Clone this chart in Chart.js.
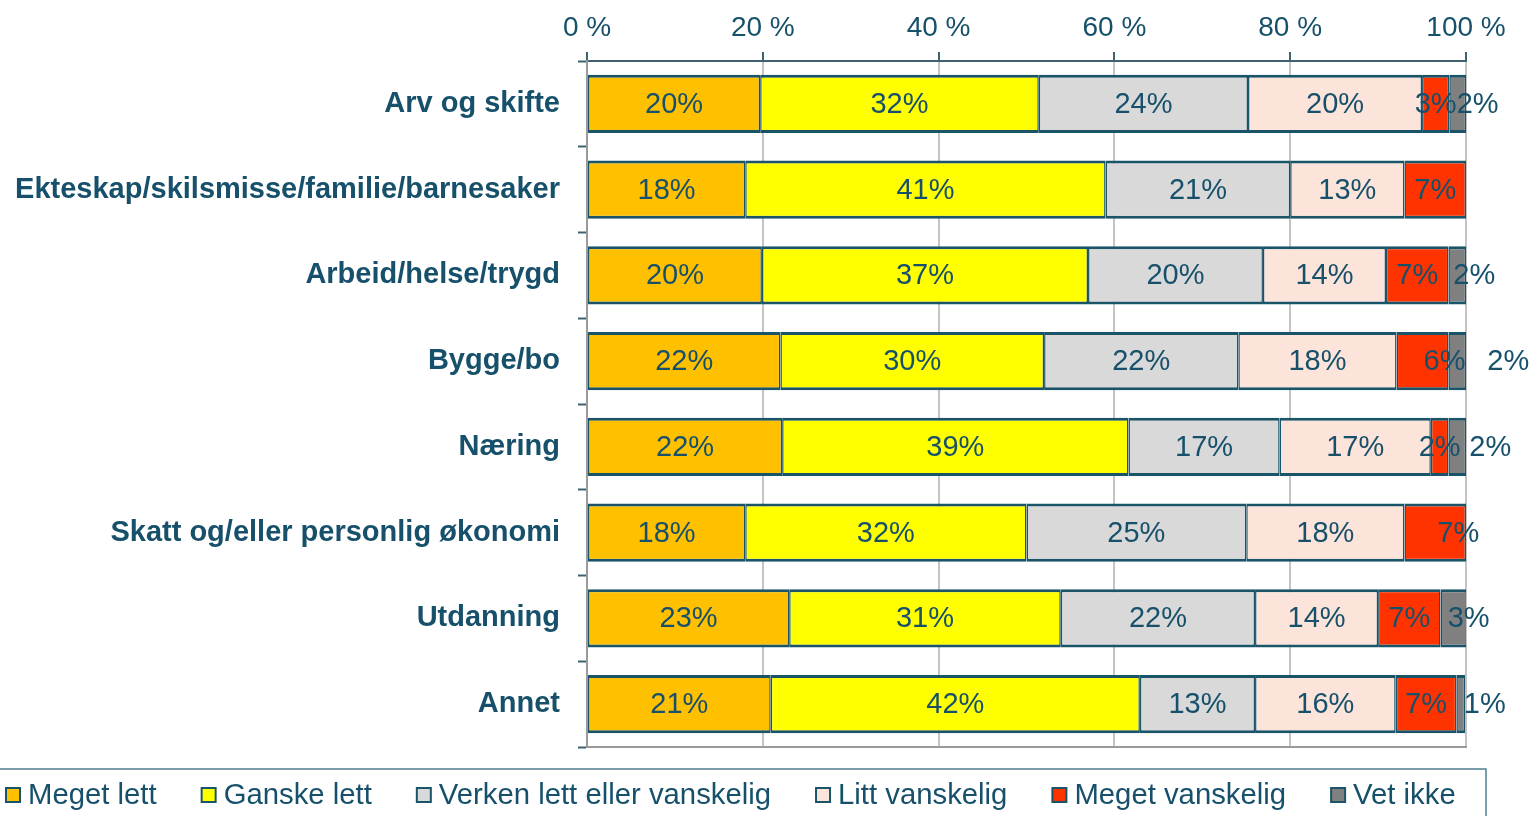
<!DOCTYPE html>
<html>
<head>
<meta charset="utf-8">
<script src="https://cdn.jsdelivr.net/npm/chart.js@4/dist/chart.umd.min.js"></script>
<style>
    body { margin: 0; background: #ffffff; }
    #wrap { width: 1533px; height: 816px; position: relative; }
</style>
</head>
<body>
<div id="wrap"><canvas id="chart"></canvas></div>
<script>
const categories = [
    "Arv og skifte",
    "Ekteskap/skilsmisse/familie/barnesaker",
    "Arbeid/helse/trygd",
    "Bygge/bo",
    "Næring",
    "Skatt og/eller personlig økonomi",
    "Utdanning",
    "Annet",
];

const seriesNames = ["Meget lett", "Ganske lett", "Verken lett eller vanskelig", "Litt vanskelig", "Meget vanskelig", "Vet ikke"];
const megetLett = [19.7, 18.0, 19.9, 22.0, 22.2, 18.0, 23.0, 20.9];
const ganskeLett = [31.7, 41.0, 37.1, 30.0, 39.4, 32.0, 30.9, 42.0];
const verken = [23.8, 21.0, 19.9, 22.1, 17.2, 25.0, 22.1, 13.1];
const littVanskelig = [19.8, 13.0, 14.0, 18.0, 17.2, 18.0, 14.0, 16.0];
const megetVanskelig = [3.1, 7.0, 7.1, 5.9, 2.0, 7.0, 7.1, 6.9];
const vetIkke = [1.9, 0, 2.0, 2.0, 2.0, 0, 3.0, 1.0];

const xTicks = [0, 20, 40, 60, 80, 100];

// label nudges (px) where the original moved small labels sideways
const labelShift = [
    [0, 0, 0, 0, 0, 0, 0, 0],
    [0, 0, 0, 0, 0, 0, 0, 0],
    [0, 0, 0, 0, 0, 0, 0, 0],
    [0, 0, 0, 0, 0, 0, 0, 0],
    [0, 0, 0, 22, 0, 23, 0, 0],
    [20, 0, 17, 51, 33, 0, 15, 24],
];

const colors = ["#FFC000", "#FFFF00", "#D9D9D9", "#FDE4DA", "#FF3300", "#808080"];
const textColor = "#17506A";
const edgeColor = "#1A5468";
const font = "'Liberation Sans', Arial, sans-serif";

const values = [megetLett, ganskeLett, verken, littVanskelig, megetVanskelig, vetIkke];

const datasets = values.map((data, i) => ({
    label: seriesNames[i],
    data: data,
    backgroundColor: colors[i],
    borderColor: edgeColor,
    borderWidth: { top: 3, bottom: 3, left: 1.5, right: 1.5 },
    borderSkipped: false,
    barPercentage: 0.68,
    categoryPercentage: 1,
}));

const barLabels = {
    id: "barLabels",
    afterDatasetsDraw(chart) {
        const ctx = chart.ctx;
        ctx.save();
        ctx.font = "29px " + font;
        ctx.fillStyle = textColor;
        ctx.textAlign = "center";
        ctx.textBaseline = "middle";
        chart.data.datasets.forEach((ds, di) => {
            chart.getDatasetMeta(di).data.forEach((bar, i) => {
                const v = ds.data[i];
                if (!v) return;
                const cx = (bar.x + bar.base) / 2 + labelShift[di][i];
                ctx.fillText(Math.round(v) + "%", cx, bar.y + 1);
            });
        });
        ctx.restore();
    },
};

// legend drawn in one row inside a frame, like the original
const rowLegend = {
    id: "rowLegend",
    afterDraw(chart) {
        const ctx = chart.ctx;
        const top = chart.chartArea.bottom + 22;
        const cy = top + 26;
        ctx.save();
        ctx.strokeStyle = "#4F7F90";
        ctx.lineWidth = 1.5;
        ctx.strokeRect(-5, top, chart.width - 42, 80);
        ctx.font = "29.3px " + font;
        ctx.textBaseline = "middle";
        let x = 6;
        chart.data.datasets.forEach((ds) => {
            ctx.fillStyle = ds.backgroundColor;
            ctx.fillRect(x, cy - 7, 14, 14);
            ctx.strokeStyle = edgeColor;
            ctx.lineWidth = 2;
            ctx.strokeRect(x, cy - 7, 14, 14);
            ctx.fillStyle = textColor;
            ctx.fillText(ds.label, x + 22, cy + 1);
            x += 22 + ctx.measureText(ds.label).width + 45;
        });
        ctx.restore();
    },
};

new Chart(document.getElementById("chart").getContext("2d"), {
    type: "bar",
    data: { labels: categories, datasets: datasets },
    plugins: [barLabels, rowLegend],
    options: {
        indexAxis: "y",
        responsive: true,
        maintainAspectRatio: false,
        animation: false,
        layout: { padding: { left: 0, right: 67, top: 0, bottom: 69 } },
        plugins: {
            tooltip: { enabled: false },
            legend: { display: false },
        },
        scales: {
            x: {
                position: "top",
                stacked: true,
                min: 0,
                max: 100,
                afterBuildTicks: (scale) => { scale.ticks = xTicks.map((v) => ({ value: v })); },
                ticks: {
                    color: textColor,
                    font: { family: font, size: 28 },
                    padding: 7,
                    callback: (v) => v + " %",
                },
                grid: { color: "#C4C4C4", lineWidth: 2, tickLength: 9, tickColor: "#3E6270", tickWidth: 2 },
                border: { color: "#3E6270", width: 2 },
                afterFit: (scale) => { scale.height = 61; },
            },
            x2: {
                position: "bottom",
                min: 0,
                max: 100,
                ticks: { display: false },
                grid: { display: false },
                border: { display: true, color: "#9A9A9A", width: 2 },
                afterFit: (scale) => { scale.height = 0; },
            },
            y: {
                stacked: true,
                ticks: {
                    color: textColor,
                    font: { family: font, size: 29, weight: "bold" },
                    padding: 18,
                },
                grid: { drawOnChartArea: false, offset: true, tickLength: 9, tickColor: "#3E6270", tickWidth: 2 },
                border: { color: "#9A9A9A", width: 2 },
                afterFit: (scale) => { scale.width = 587; },
            },
        },
    },
});
</script>
</body>
</html>
